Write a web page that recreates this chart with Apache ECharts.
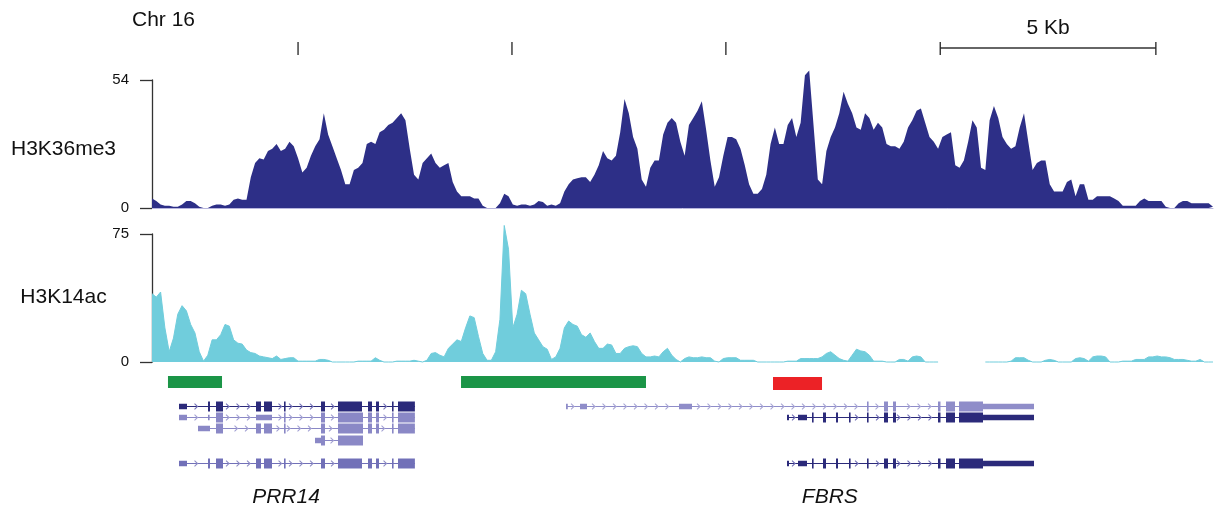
<!DOCTYPE html>
<html><head><meta charset="utf-8">
<script src="https://cdn.jsdelivr.net/npm/echarts@6/dist/echarts.min.js"></script>
<style>html,body{margin:0;padding:0;background:#fff}#c{width:1214px;height:511px}</style>
</head><body><div id="c"></div>
<script>
// ---------------- DATA ----------------
const STEP_KB = 0.1;            // bin width of the coverage tracks (kb)
const REGION_KB = 24.7;         // width of the displayed region (kb)
const chromLabel = 'Chr 16';
const trackNames = ['H3K36me3', 'H3K14ac'];
const trackMax = [54, 75];

const h3k36me3 = [
  4,3,1.5,1,1,0.5,0.5,1.5,3,3,
  2,0.5,0,0,1,1.5,1.5,1,1.5,3.5,
  4,3.5,3.5,13,19,21,20.5,24,25,27,
  24,25,28,26,21,15,17,22,26,29,
  40,31,26,21,16,10,10,16,17,19,
  27,28,27,32,33,35,36,38,40,37,
  25,14,12,19,21,23,19,17,18,19,
  11,7,5,5,5,4,4,1,0,0,
  0,2,6,5,1.5,1,1.5,1.5,1,1.5,
  3,2.5,1,1.5,1,2,7,10,12,12.5,
  13,13,11,14,18,24,21,20,22,32,
  46,40,30,25,12,9,17,20,20,31,
  36,38,36,28,22,35,38,41,45,33,
  20,9,13,22,30,30,29,25,18,10,
  6,6,8,14,27,34,27,27,35,38,
  30,36,56,58,35,12,10,24,30,34,
  40,49,44,40,34,33,40,38,33,36,
  34,27,26,26,25,28,34,37,41,42,
  36,30,28,25,30,31,32,18,17,20,
  28,37,34,17,16,37,43,38,30,27,
  25,26,34,40,28,16,19,20,20,10,
  7,7,7,11,12,5,10,10,3.5,3.5,
  5,5,5,5,4,3,1,1,1,1,
  3,4,3,3,3,3,0.5,0,0,2,
  3,3,2,2,2,2,2,0.5
];

const h3k14ac = [
  40,38,41,20,6,14,28,33,30,22,
  17,6,0.5,4,13,13,16,22,21,13,
  11,10.5,7,5.5,5,3.5,3,2.5,2,3.5,
  1.5,2,2.5,2.5,0.5,0.5,0.5,0.5,0.5,1.5,
  1.5,1,0,0,0,0,0,0,0.5,0.5,
  0.5,0.5,2.5,1,0,0,0,0.5,0.5,0.5,
  0.5,1,0.5,0,1,5,5.5,4,3,8,
  10.5,13,12,20,27,26,15,5,1,1,
  6,25,80,66,20,28,42,40,28,17,
  13,9,7.5,1.5,3,8,20,24,22,21,
  16,14.5,17,12,8,8,10.5,10,5,5,
  8,9,9.5,9,5,3,3,3.5,3,6,
  8,4,1.5,0,2,3,2.5,2.5,3,2.5,
  2.5,0.5,0,2,2.5,2.5,2.5,1,1,1,
  1,0,0,0,0,0,0,0,0.5,0.5,
  0.5,2,2,2,2,2,3,5,6,4,
  2,1,0.5,4,7.5,6.5,6,4,0.5,0.5,
  0.5,0,0,0,1.5,1.5,0.5,3,3.5,3,
  0,0,0,0,null,null,null,null,null,null,
  null,null,null,null,0,0,0,0,0,0,
  0.5,2.5,2.5,2.5,1,0,0,0,1,1.5,
  1,0,0,0,0,2,2.5,2,0.5,3,
  3.5,3.5,3,0,0,0,0.5,0.5,0.5,1.5,
  1.5,1.5,3,3,3.5,3,3,2.5,1.5,1.5,
  1.5,1,0.5,0.5,1.5,0,0,0
];

const scaleTicksKb = [3.40, 8.38, 13.36];
const scaleBarKb = [18.35, 23.37];
const scaleBarLabel = '5 Kb';

const greenRegionsKb = [[0.372, 1.630], [7.194, 11.500]];
const redRegionsKb = [[14.457, 15.598]];

const geneNames = ['PRR14', 'FBRS'];
const geneLabelKb = [3.12, 15.78];

// transcripts: [start, end] and exons [start, end, kind]
const prr14Full = [[0.629,0.815,'utr'],[1.304,1.350,'cds'],[1.490,1.653,'cds'],[2.421,2.538,'cds'],[2.607,2.794,'cds'],[3.073,3.096,'cds'],[3.934,4.028,'cds'],[4.330,4.889,'cds'],[5.029,5.122,'cds'],[5.215,5.285,'cds'],[5.587,5.610,'cds'],[5.727,6.120,'cds']];
const prr14B = [[0.629,0.815,'utr'],[1.304,1.340,'utr'],[1.490,1.653,'cds'],[2.421,2.794,'utr'],[3.073,3.096,'cds'],[3.934,4.028,'cds'],[4.330,4.912,'cds'],[5.029,5.122,'cds'],[5.215,5.285,'cds'],[5.587,5.610,'cds'],[5.727,6.120,'cds']];
const prr14C = [[1.071,1.350,'utr'],[1.490,1.653,'cds'],[2.421,2.538,'cds'],[2.607,2.794,'cds'],[3.073,3.096,'cds'],[3.934,4.028,'cds'],[4.330,4.912,'cds'],[5.029,5.122,'cds'],[5.215,5.285,'cds'],[5.587,5.610,'cds'],[5.727,6.120,'cds']];
const prr14D = [[3.795,3.934,'utr'],[3.934,4.028,'cds'],[4.330,4.912,'cds']];
const fbrsLong = [[9.638,9.680,'utr'],[9.964,10.127,'utr'],[12.269,12.571,'utr'],[16.645,16.680,'cds'],[17.041,17.134,'cds'],[17.251,17.320,'cds'],[18.298,18.356,'cds'],[18.484,18.694,'cds'],[18.787,19.346,'cds'],[19.346,20.533,'utr']];
const fbrsShort = [[14.783,14.830,'utr'],[15.039,15.249,'utr'],[15.365,15.388,'cds'],[15.621,15.691,'cds'],[15.924,15.970,'cds'],[16.226,16.250,'cds'],[16.645,16.680,'cds'],[17.041,17.134,'cds'],[17.251,17.320,'cds'],[18.298,18.356,'cds'],[18.484,18.694,'cds'],[18.787,19.346,'cds'],[19.346,20.533,'utr']];

const transcripts = [
  {start:0.629, end:6.123, exons:prr14Full},
  {start:0.629, end:6.123, exons:prr14B},
  {start:1.071, end:6.123, exons:prr14C},
  {start:3.795, end:4.912, exons:prr14D},
  {start:0.629, end:6.123, exons:prr14Full},
  {start:9.638, end:20.533, exons:fbrsLong},
  {start:14.783, end:20.533, exons:fbrsShort},
  {start:14.783, end:20.533, exons:fbrsShort}
];

// ---------------- LAYOUT / STYLE ----------------
const FONT = "'Liberation Sans', Arial, Helvetica, sans-serif";
const NAVY = '#2d2f87', CYAN = '#70cddc';
const DARK = '#2b2a7a', LIGHT = '#8a88c6', MID = '#7170b8', PALE = '#8f8dc9';
const laneOf = [3.2, 4.2, 5.2, 6.25, 8.4, 3.2, 4.2, 8.4];
const colorOf = [DARK, LIGHT, LIGHT, LIGHT, MID, PALE, DARK, DARK];
const chevOf = ['#7573b8', '#a3a1d3', '#a3a1d3', '#a3a1d3', '#8f8dc6', '#a9a7d6', '#7573b8', '#7573b8'];
const EXON_H = {cds: 10, utr: 5.5};

const L = 152, W = 1061;

function seriesData(arr) {
  return arr.map((v, i) => [+(i * STEP_KB).toFixed(2), v == null ? '-' : v]);
}

function renderTick(params, api) {
  const a = api.coord([api.value(0), 0]);
  const b = api.coord([api.value(0), 1]);
  return {type:'line', shape:{x1:a[0], y1:a[1], x2:b[0], y2:b[1]}, style:{stroke:'#222', lineWidth:1.3}};
}

function renderScaleBar(params, api) {
  const a0 = api.coord([api.value(0), 0]), a1 = api.coord([api.value(0), 1]);
  const b0 = api.coord([api.value(1), 0]), b1 = api.coord([api.value(1), 1]);
  const ym = (a0[1] + a1[1]) / 2 - 0.5;
  return {type:'group', children:[
    {type:'line', shape:{x1:a0[0], y1:ym, x2:b0[0], y2:ym}, style:{stroke:'#333', lineWidth:1.6}},
    {type:'line', shape:{x1:a0[0], y1:a0[1], x2:a1[0], y2:a1[1]}, style:{stroke:'#222', lineWidth:1.3}},
    {type:'line', shape:{x1:b0[0], y1:b0[1], x2:b1[0], y2:b1[1]}, style:{stroke:'#222', lineWidth:1.3}},
    {type:'text', x:(a0[0] + b0[0]) / 2, y:a1[1] - 14,
     style:{text:scaleBarLabel, font:'21px ' + FONT, fill:'#111', align:'center', verticalAlign:'middle', textAlign:'center', textVerticalAlign:'middle'}}
  ]};
}

function makeFeatureRenderer(lane, h, color) {
  return function (params, api) {
    const s = api.coord([api.value(0), lane]);
    const e = api.coord([api.value(1), lane]);
    return {type:'rect', shape:{x:s[0], y:s[1] - h / 2, width:e[0] - s[0], height:h}, style:{fill:color}};
  };
}

function renderTranscript(params, api) {
  const idx = api.value(2);
  const t = transcripts[idx];
  const lane = laneOf[idx], color = colorOf[idx], chev = chevOf[idx];
  const p0 = api.coord([t.start, lane]);
  const p1 = api.coord([t.end, lane]);
  const y = Math.round(p0[1]) + 0.5;
  const kids = [];
  kids.push({type:'line', shape:{x1:p0[0], y1:y, x2:p1[0], y2:y}, style:{stroke:color, lineWidth:1.2}});
  const ex = t.exons.map(e => [api.coord([e[0], lane])[0], api.coord([e[1], lane])[0], e[2]]);
  for (let x = p0[0] + 7; x < p1[0] - 3; x += 10.5) {
    if (ex.some(e => x > e[0] - 3 && x < e[1] + 3)) continue;
    kids.push({type:'polyline', shape:{points:[[x - 2, y - 2.8], [x + 1, y], [x - 2, y + 2.8]]},
               style:{stroke:chev, lineWidth:1.1, fill:null}});
  }
  ex.forEach(e => {
    const h = EXON_H[e[2]];
    kids.push({type:'rect', shape:{x:e[0], y:y - h / 2, width:Math.max(e[1] - e[0], 1.6), height:h}, style:{fill:color}});
  });
  return {type:'group', children:kids};
}

function renderGeneLabel(params, api) {
  const p = api.coord([api.value(0), 11.45]);
  return {type:'text', x:p[0], y:p[1],
          style:{text:geneNames[api.value(1)], font:'italic 21px ' + FONT, fill:'#111',
                 align:'center', verticalAlign:'middle', textAlign:'center', textVerticalAlign:'middle'}};
}

const yTrackAxis = (gi, max) => ({
  gridIndex:gi, type:'value', min:0, max:max, interval:max, offset:7,
  axisLine:{show:true, lineStyle:{color:'#333', width:1.3}},
  axisTick:{show:true, length:12, lineStyle:{color:'#333', width:1.3}},
  axisLabel:{fontSize:15, color:'#111', margin:16, fontFamily:FONT},
  splitLine:{show:false}
});

const option = {
  animation:false,
  backgroundColor:'#fff',
  textStyle:{fontFamily:FONT},
  grid:[
    {left:L, width:W, top:42, height:13, outerBoundsMode:'none'},
    {left:L, width:W, top:80, height:128, outerBoundsMode:'none'},
    {left:L, width:W, top:234, height:128, outerBoundsMode:'none'},
    {left:L, width:W, top:371, height:110, outerBoundsMode:'none'}
  ],
  xAxis:[0, 1, 2, 3].map(i => ({
    type:'value', gridIndex:i, min:0, max:REGION_KB, show:i === 1,
    axisLine:{show:true, onZero:false, lineStyle:{color:'#b7b5dd', width:1}},
    axisTick:{show:false}, axisLabel:{show:false}, splitLine:{show:false}
  })),
  yAxis:[
    {gridIndex:0, type:'value', min:0, max:1, show:false},
    yTrackAxis(1, trackMax[0]),
    yTrackAxis(2, trackMax[1]),
    {gridIndex:3, type:'value', min:0, max:10, inverse:true, show:false}
  ],
  series:[
    {type:'custom', xAxisIndex:0, yAxisIndex:0, data:scaleTicksKb.map(x => [x]), renderItem:renderTick, encode:{x:0}},
    {type:'custom', xAxisIndex:0, yAxisIndex:0, data:[scaleBarKb], renderItem:renderScaleBar, encode:{x:[0, 1]}},
    {type:'line', xAxisIndex:1, yAxisIndex:1, data:seriesData(h3k36me3), symbol:'none', showSymbol:false,
     clip:false, lineStyle:{width:0, color:NAVY}, areaStyle:{color:NAVY, opacity:1}, itemStyle:{color:NAVY}, z:3},
    {type:'line', xAxisIndex:2, yAxisIndex:2, data:seriesData(h3k14ac), symbol:'none', showSymbol:false,
     clip:false, connectNulls:false, lineStyle:{width:1, color:CYAN}, areaStyle:{color:CYAN, opacity:1}, itemStyle:{color:CYAN}, z:3},
    {type:'custom', xAxisIndex:3, yAxisIndex:3, data:greenRegionsKb, renderItem:makeFeatureRenderer(1.0, 12, '#1b9547'), encode:{x:[0, 1]}},
    {type:'custom', xAxisIndex:3, yAxisIndex:3, data:redRegionsKb, renderItem:makeFeatureRenderer(1.14, 13, '#ec2226'), encode:{x:[0, 1]}},
    {type:'custom', xAxisIndex:3, yAxisIndex:3, data:transcripts.map((t, i) => [t.start, t.end, i]), renderItem:renderTranscript, encode:{x:[0, 1]}},
    {type:'custom', xAxisIndex:3, yAxisIndex:3, data:geneLabelKb.map((x, i) => [x, i]), renderItem:renderGeneLabel, encode:{x:0}}
  ],
  graphic:[
    {type:'text', x:132, y:20.5, style:{text:chromLabel, font:'21px ' + FONT, fill:'#111', verticalAlign:'middle', textVerticalAlign:'middle'}},
    {type:'text', x:63.5, y:149, style:{text:trackNames[0], font:'21px ' + FONT, fill:'#111', align:'center', textAlign:'center', verticalAlign:'middle', textVerticalAlign:'middle'}},
    {type:'text', x:63.5, y:297, style:{text:trackNames[1], font:'21px ' + FONT, fill:'#111', align:'center', textAlign:'center', verticalAlign:'middle', textVerticalAlign:'middle'}}
  ]
};

const chart = echarts.init(document.getElementById('c'), null, {renderer:'canvas'});
chart.setOption(option);
</script>
</body></html>
